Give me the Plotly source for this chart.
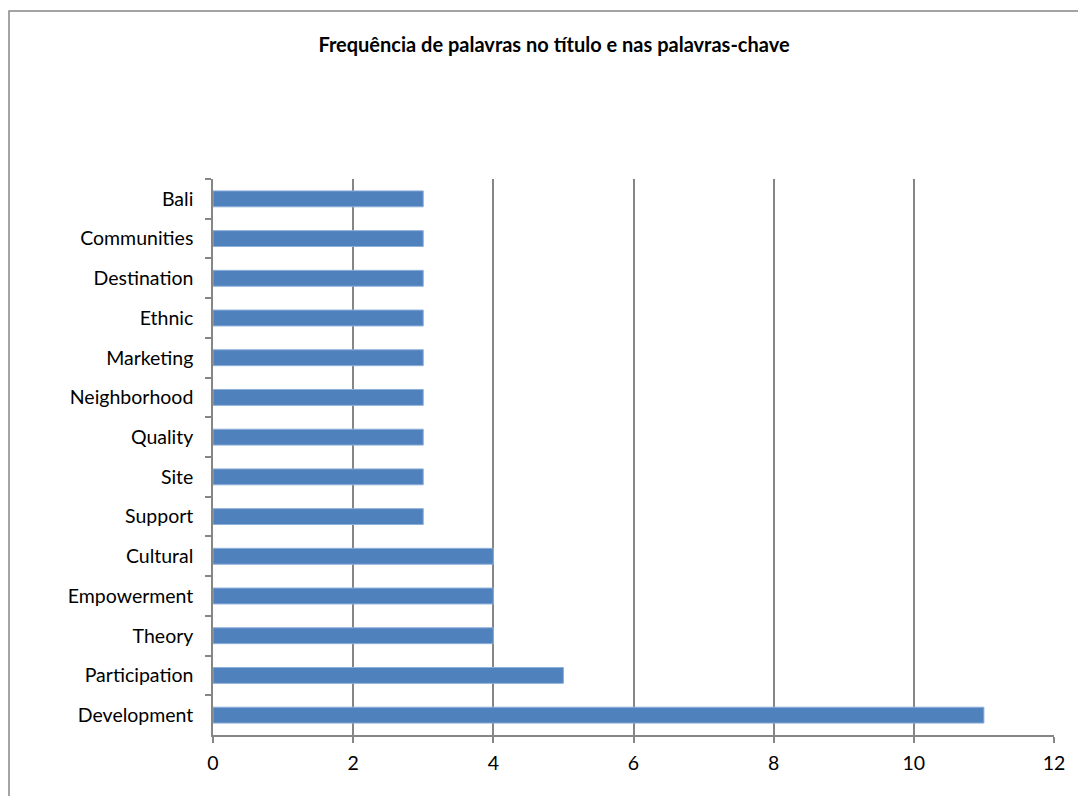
import plotly.graph_objects as go

categories = ["Bali", "Communities", "Destination", "Ethnic", "Marketing", "Neighborhood",
              "Quality", "Site", "Support", "Cultural", "Empowerment", "Theory",
              "Participation", "Development"]
values = [3, 3, 3, 3, 3, 3, 3, 3, 3, 4, 4, 4, 5, 11]
x_ticks = [0, 2, 4, 6, 8, 10, 12]
title_text = "Frequência de palavras no título e nas palavras-chave"

# page has an 8px body margin; size the figure so it fits the 1086x796 window
OFF = 8
W, H = 1086 - OFF, 796 - OFF
L, T = 213 - OFF, 179 - OFF
pw, ph = 841, 556
R, B = W - L - pw, H - T - ph
grey = "#868686"
font_fam = "Lato, 'Open Sans', sans-serif"

fig = go.Figure(go.Bar(
    x=values, y=categories, orientation="h",
    marker=dict(color="#4F81BD", line=dict(color="#8DAFDB", width=1)),
))

fig.update_layout(
    width=W, height=H,
    margin=dict(l=L, r=R, t=T, b=B, autoexpand=False),
    paper_bgcolor="white", plot_bgcolor="white",
    bargap=0.6, showlegend=False,
    font=dict(family=font_fam, size=19.5, color="#000000"),
    title=dict(text="<b>" + title_text + "</b>", x=(554 - OFF) / W, xref="container",
               xanchor="center", y=1 - (45 - OFF) / H, yref="container", yanchor="middle",
               font=dict(family=font_fam, size=20, color="#000000")),
    xaxis=dict(range=[0, 12], tickvals=x_ticks, showgrid=True, gridcolor=grey, gridwidth=1.5,
               showline=True, linecolor=grey, linewidth=1.5, ticks="outside", ticklen=6,
               tickcolor=grey, tickwidth=1.5, zeroline=False, ticklabelstandoff=4,
               tickfont=dict(size=19.5)),
    yaxis=dict(categoryorder="array", categoryarray=categories, autorange="reversed",
               showgrid=False, showline=True, linecolor=grey, linewidth=1.5,
               ticks="outside", ticklen=6, tickcolor=grey, tickwidth=1.5, tickson="boundaries",
               ticklabelstandoff=14, tickfont=dict(size=19.5)),
    shapes=[dict(type="rect", xref="paper", yref="paper",
                 x0=(9 - 213) / pw, x1=1.2, y0=-0.3, y1=(735 - 11) / ph,
                 line=dict(color=grey, width=1.5), fillcolor="rgba(0,0,0,0)", layer="below")],
)

fig.write_html("out.html")
